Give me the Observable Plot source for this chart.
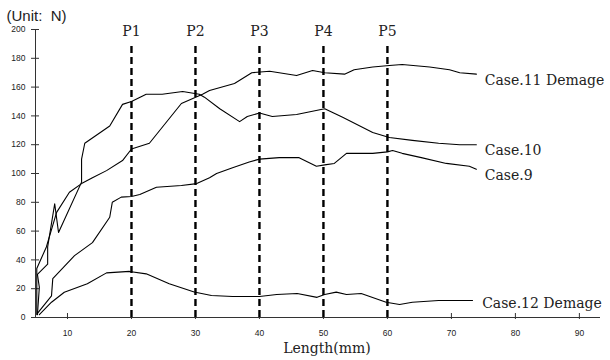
<!DOCTYPE html>
<html>
<head>
<meta charset="utf-8">
<script src="https://cdn.jsdelivr.net/npm/d3@7"></script>
<script src="https://cdn.jsdelivr.net/npm/@observablehq/plot@0.6"></script>
<style>
  html, body { margin: 0; padding: 0; background: #fff; }
</style>
</head>
<body>
<div id="chart"></div>
<script>
// ---- data ----
const case11X = [5.2, 5.2, 6.7, 8.3, 10.3, 12.2, 13.9, 16.1, 18.6, 20, 22.8, 27.8, 31.1, 32.2, 36.1, 38.8, 41.6, 45.8, 48.3, 50.2, 53.3, 54.8, 57.7, 60.3, 62.3, 66.6, 69.7, 71.3, 73.9];
const case11Y = [2, 34, 49, 73, 87, 93, 97, 102, 109, 117, 121, 148.6, 155, 157.6, 162.5, 170, 171, 168, 171.5, 170, 169, 172, 174, 175, 175.7, 174, 172, 170, 169];

const case10X = [5.3, 5.6, 5.3, 6.9, 6.9, 8, 8.6, 12.2, 12.2, 12.7, 16.6, 18.6, 20, 22.3, 24.8, 28, 30.6, 31.4, 33.8, 36.9, 38.1, 40, 42, 45.8, 50.2, 53, 57.7, 60.3, 63.9, 68, 71.3, 73.9];
const case10Y = [2, 21, 30, 37, 49, 79, 59, 94, 110, 121, 133, 148, 150, 155, 155, 157, 155, 153, 145, 136, 139.6, 142, 139.6, 141, 145, 139, 128.5, 125, 123, 121, 120, 120];

const case9X = [5.3, 7.5, 7.7, 11.1, 13.9, 16.6, 17, 18.4, 20, 21.3, 23.9, 27.8, 30.2, 32.2, 33.3, 35.8, 38.4, 40, 43.1, 46.2, 48.9, 50.2, 51.7, 53.6, 57.7, 60, 60.8, 62.3, 65.3, 69.2, 72.8, 73.9];
const case9Y = [2.8, 15, 27, 43, 52, 69.6, 80, 83.6, 84, 85.4, 90.5, 91.7, 93, 97, 100, 104, 108, 110, 111, 111, 105, 106, 107, 114, 114, 115, 116, 114, 111, 107, 105, 103];

const case12X = [5.6, 7.5, 9.5, 13.1, 16.1, 19.7, 22.3, 25.9, 29.8, 32.5, 35.8, 40, 42.7, 45.9, 49, 50.2, 52, 53.6, 55.9, 59.8, 61.9, 63.9, 68, 73.3];
const case12Y = [2, 10.6, 17.5, 23.4, 31, 32, 30.3, 23.4, 17.7, 15.3, 14.6, 14.6, 16, 16.7, 14, 16, 17.6, 16, 16.7, 10.6, 9, 10.6, 11.8, 11.8];

const pNames = ["P1", "P2", "P3", "P4", "P5"];
const pX = [20, 30, 40, 50, 60];
const pTop = 190;

const labelNames = ["Case.11 Demage", "Case.10", "Case.9", "Case.12 Demage"];
const labelX = [75.2, 75.2, 75.2, 74.8];
const labelY = [164.6, 116, 98.6, 9.7];

const xTicks = [10, 20, 30, 40, 50, 60, 70, 80, 90];
const yTicks = [0, 20, 40, 60, 80, 100, 120, 140, 160, 180, 200];
const xMin = 5, xMax = 93.3;

// ---- build tables ----
const zip = (xs, ys) => xs.map((x, i) => ({x, y: ys[i]}));
const series = [zip(case11X, case11Y), zip(case10X, case10Y), zip(case9X, case9Y), zip(case12X, case12Y)];
const pData = pNames.map((name, i) => ({name, x: pX[i], bold: name === "P4"}));
const labels = labelNames.map((name, i) => ({name, x: labelX[i], y: labelY[i]}));

const serif = "'DejaVu Serif', 'Liberation Serif', serif";
const sans = "'Liberation Sans', Arial, sans-serif";

const chart = Plot.plot({
  width: 610,
  height: 360,
  marginLeft: 35,
  marginRight: 10,
  marginTop: 29,
  marginBottom: 43,
  x: {domain: [xMin, xMax]},
  y: {domain: [0, 200]},
  axis: null,
  style: {background: "#fff"},
  marks: [
    // axis lines
    Plot.ruleY([0], {x1: xMin, x2: xMax, stroke: "#333", strokeWidth: 1}),
    Plot.ruleX([xMin], {y1: 0, y2: 200, stroke: "#333", strokeWidth: 1}),
    // tick marks
    Plot.ruleY(yTicks, {x1: xMin, x2: xMin, insetLeft: -4, insetRight: -4, stroke: "#333"}),
    Plot.ruleX(xTicks, {y1: 0, y2: 0, insetTop: -4, insetBottom: -2, stroke: "#333"}),
    // tick labels
    Plot.text(yTicks, {x: xMin, y: d => d, text: d => String(d), textAnchor: "end", dx: -10, fontSize: 8.5, fontFamily: sans, fill: "#222"}),
    Plot.text(xTicks, {x: d => d, y: 0, text: d => String(d), dy: 16, fontSize: 8.5, fontFamily: sans, fill: "#222"}),
    // dashed P lines
    Plot.ruleX(pData, {x: "x", y1: 0, y2: pTop, stroke: "black", strokeWidth: 2.4, strokeDasharray: "7,4"}),
    Plot.text(pData, {x: "x", y: 198.6, text: "name", fontSize: 14, fontFamily: serif, fill: "#222", fontWeight: d => d.bold ? "bold" : "normal"}),
    // curves
    ...series.map(s => Plot.line(s, {x: "x", y: "y", stroke: "black", strokeWidth: 1.1})),
    // curve labels
    Plot.text(labels, {x: "x", y: "y", text: "name", textAnchor: "start", fontSize: 14, fontFamily: serif, fill: "#222"}),
    // title & axis label
    Plot.text(["(Unit:  N)"], {frameAnchor: "top-left", lineAnchor: "middle", text: d => d, dx: -29, dy: -13, textAnchor: "start", fontSize: 15, fontFamily: sans, fill: "#222"}),
    Plot.text(["Length(mm)"], {frameAnchor: "bottom", lineAnchor: "middle", text: d => d, dx: 9, dy: 31, fontSize: 14, fontFamily: serif, fill: "#222"})
  ]
});
document.getElementById("chart").appendChild(chart);
</script>
</body>
</html>
